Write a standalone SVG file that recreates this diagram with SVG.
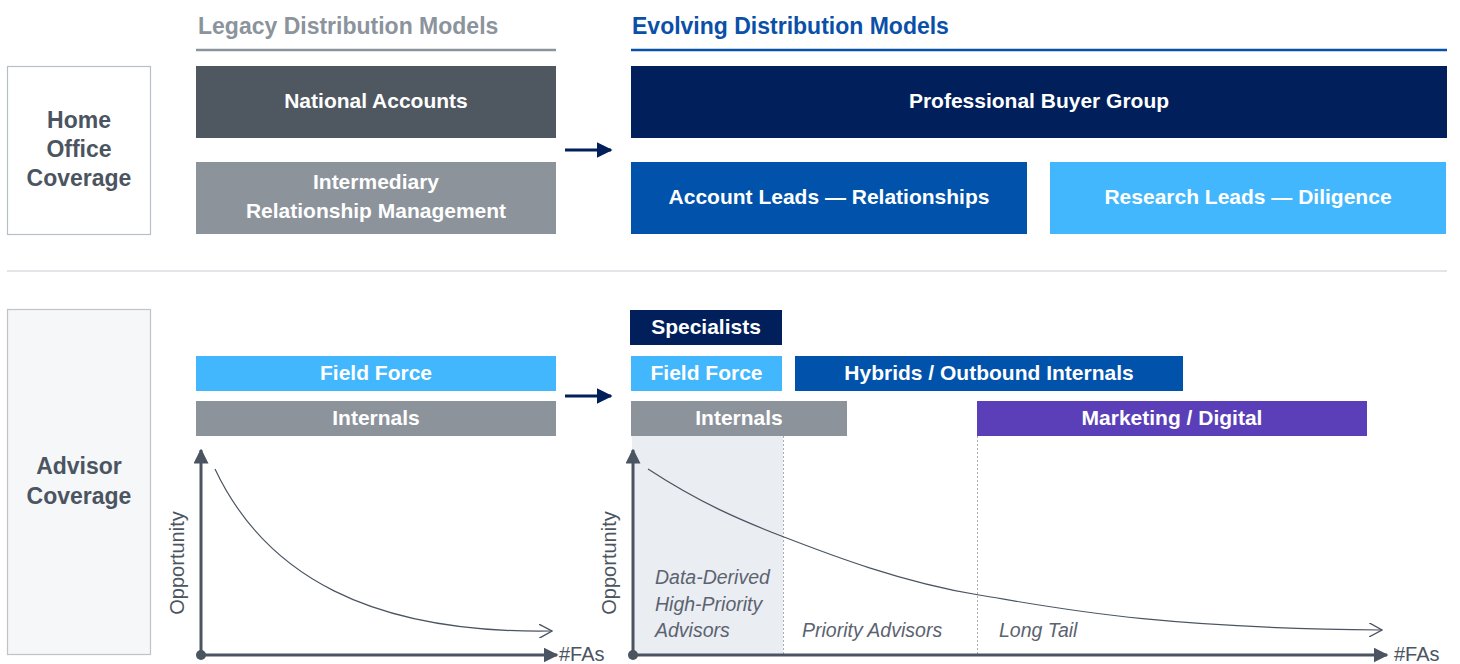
<svg xmlns="http://www.w3.org/2000/svg" width="1460" height="664" viewBox="0 0 1460 664">
<style>
text{font-family:"Liberation Sans",Arial,sans-serif}
.bt{fill:#fff;font-weight:bold;font-size:21px;text-anchor:middle}
.side{fill:#4b5461;font-weight:bold;font-size:23px;text-anchor:middle}
.ax{stroke:#4b5461;stroke-width:3;fill:none}
.crv{stroke:#4b5461;stroke-width:1.2;fill:none}
.it{fill:#5b6370;font-style:italic;font-size:19.5px}
.lbl{fill:#4b5461;font-size:20px}
.dot{stroke:#a9aeb5;stroke-width:1;stroke-dasharray:2 2}
</style>
<defs>
<marker id="tri" viewBox="0 0 10 10" refX="9" refY="5" markerWidth="5" markerHeight="5" orient="auto" markerUnits="strokeWidth"><path d="M0,0L10,5L0,10z" fill="#4b5461"/></marker>
<marker id="open" viewBox="0 0 12 12" refX="11" refY="6" markerWidth="14" markerHeight="14" orient="auto" markerUnits="userSpaceOnUse"><path d="M0,0L11,6L0,12" fill="none" stroke="#4b5461" stroke-width="1.2"/></marker>
<marker id="navy" viewBox="0 0 10 10" refX="9" refY="5" markerWidth="16" markerHeight="16" orient="auto" markerUnits="userSpaceOnUse"><path d="M0,0L10,5L0,10z" fill="#001f5b"/></marker>
</defs>
<rect width="1460" height="664" fill="#fff"/>

<g id="headers">
<text x="198" y="34" font-size="23" font-weight="bold" fill="#8b939c">Legacy Distribution Models</text>
<line x1="196" y1="50" x2="556" y2="50" stroke="#8b939c" stroke-width="2.5"/>
<text x="632" y="34" font-size="23" font-weight="bold" fill="#0a50a8">Evolving Distribution Models</text>
<line x1="631" y1="50" x2="1447" y2="50" stroke="#0a50a8" stroke-width="2.5"/>
<line x1="7" y1="271" x2="1447" y2="271" stroke="#c8ccd1" stroke-width="1.2"/>
</g>

<g id="home-office">
<rect x="7.5" y="66.5" width="143" height="168" fill="#fff" stroke="#b9bec5" stroke-width="1.2"/>
<text class="side" x="79" y="128">Home</text>
<text class="side" x="79" y="157">Office</text>
<text class="side" x="79" y="186">Coverage</text>
</g>

<g id="national-accounts"><rect x="196" y="66" width="360" height="72" fill="#4f5761"/><text class="bt" x="376" y="108">National Accounts</text></g>
<g id="intermediary"><rect x="196" y="162" width="360" height="72" fill="#8c939b"/><text class="bt" x="376" y="189">Intermediary</text><text class="bt" x="376" y="218">Relationship Management</text></g>
<g id="pbg"><rect x="631" y="66" width="816" height="72" fill="#001f5b"/><text class="bt" x="1039" y="108">Professional Buyer Group</text></g>
<g id="account-leads"><rect x="631" y="162" width="396" height="72" fill="#0052ab"/><text class="bt" x="829" y="204">Account Leads — Relationships</text></g>
<g id="research-leads"><rect x="1050" y="162" width="396" height="72" fill="#42b7fe"/><text class="bt" x="1248" y="204">Research Leads — Diligence</text></g>

<g id="advisor">
<rect x="7.5" y="309.5" width="143" height="345" fill="#f6f7f8" stroke="#c0c4c9" stroke-width="1.2"/>
<text class="side" x="79" y="474">Advisor</text>
<text class="side" x="79" y="504">Coverage</text>
</g>

<g id="legacy-field"><rect x="196" y="356" width="360" height="35" fill="#42b7fe"/><text class="bt" x="376" y="380">Field Force</text></g>
<g id="legacy-internals"><rect x="196" y="401" width="360" height="35" fill="#8c939b"/><text class="bt" x="376" y="425">Internals</text></g>

<g id="specialists"><rect x="630" y="310" width="152" height="35" fill="#001f5b"/><text class="bt" x="706" y="334">Specialists</text></g>
<g id="new-field"><rect x="631" y="356" width="151" height="35" fill="#42b7fe"/><text class="bt" x="706.5" y="380">Field Force</text></g>
<g id="hybrids"><rect x="795" y="356" width="388" height="35" fill="#0052ab"/><text class="bt" x="989" y="380">Hybrids / Outbound Internals</text></g>
<g id="new-internals"><rect x="631" y="401" width="216" height="35" fill="#8c939b"/><text class="bt" x="739" y="425">Internals</text></g>
<g id="marketing"><rect x="977" y="401" width="390" height="35" fill="#5a3fb8"/><text class="bt" x="1172" y="425">Marketing / Digital</text></g>

<g id="legacy-chart">
<line class="ax" x1="201" y1="655" x2="201" y2="450" marker-end="url(#tri)"/>
<line class="ax" x1="201" y1="655" x2="557" y2="655" marker-end="url(#tri)"/>
<circle cx="201" cy="655" r="5" fill="#4b5461"/>
<path class="crv" d="M215,469 C265,575 370,634 552,631" marker-end="url(#open)"/>
<text class="lbl" transform="translate(184,563) rotate(-90)" text-anchor="middle">Opportunity</text>
<text class="lbl" x="559" y="661">#FAs</text>
</g>

<g id="evolving-chart">
<rect x="632" y="436" width="151" height="219" fill="#eaedf2"/>
<line class="dot" x1="783.5" y1="436" x2="783.5" y2="655"/>
<line class="dot" x1="977.5" y1="436" x2="977.5" y2="655"/>
<line class="ax" x1="633" y1="655" x2="633" y2="450" marker-end="url(#tri)"/>
<line class="ax" x1="633" y1="655" x2="1387" y2="655" marker-end="url(#tri)"/>
<circle cx="633" cy="655" r="5" fill="#4b5461"/>
<path class="crv" d="M648,469 C700,503 740,520 784,537 S900,582 979,595 S1150,628 1382,630" marker-end="url(#open)"/>
<text class="lbl" transform="translate(616,563) rotate(-90)" text-anchor="middle">Opportunity</text>
<text class="lbl" x="1394" y="661">#FAs</text>
<text class="it" x="655" y="584">Data-Derived</text>
<text class="it" x="655" y="611">High-Priority</text>
<text class="it" x="655" y="637">Advisors</text>
<text class="it" x="802" y="637">Priority Advisors</text>
<text class="it" x="999" y="637">Long Tail</text>
</g>

<g id="connectors">
<line x1="565" y1="150" x2="611" y2="150" stroke="#001f5b" stroke-width="3" marker-end="url(#navy)"/>
<line x1="565" y1="396" x2="611" y2="396" stroke="#001f5b" stroke-width="3" marker-end="url(#navy)"/>
</g>
</svg>
